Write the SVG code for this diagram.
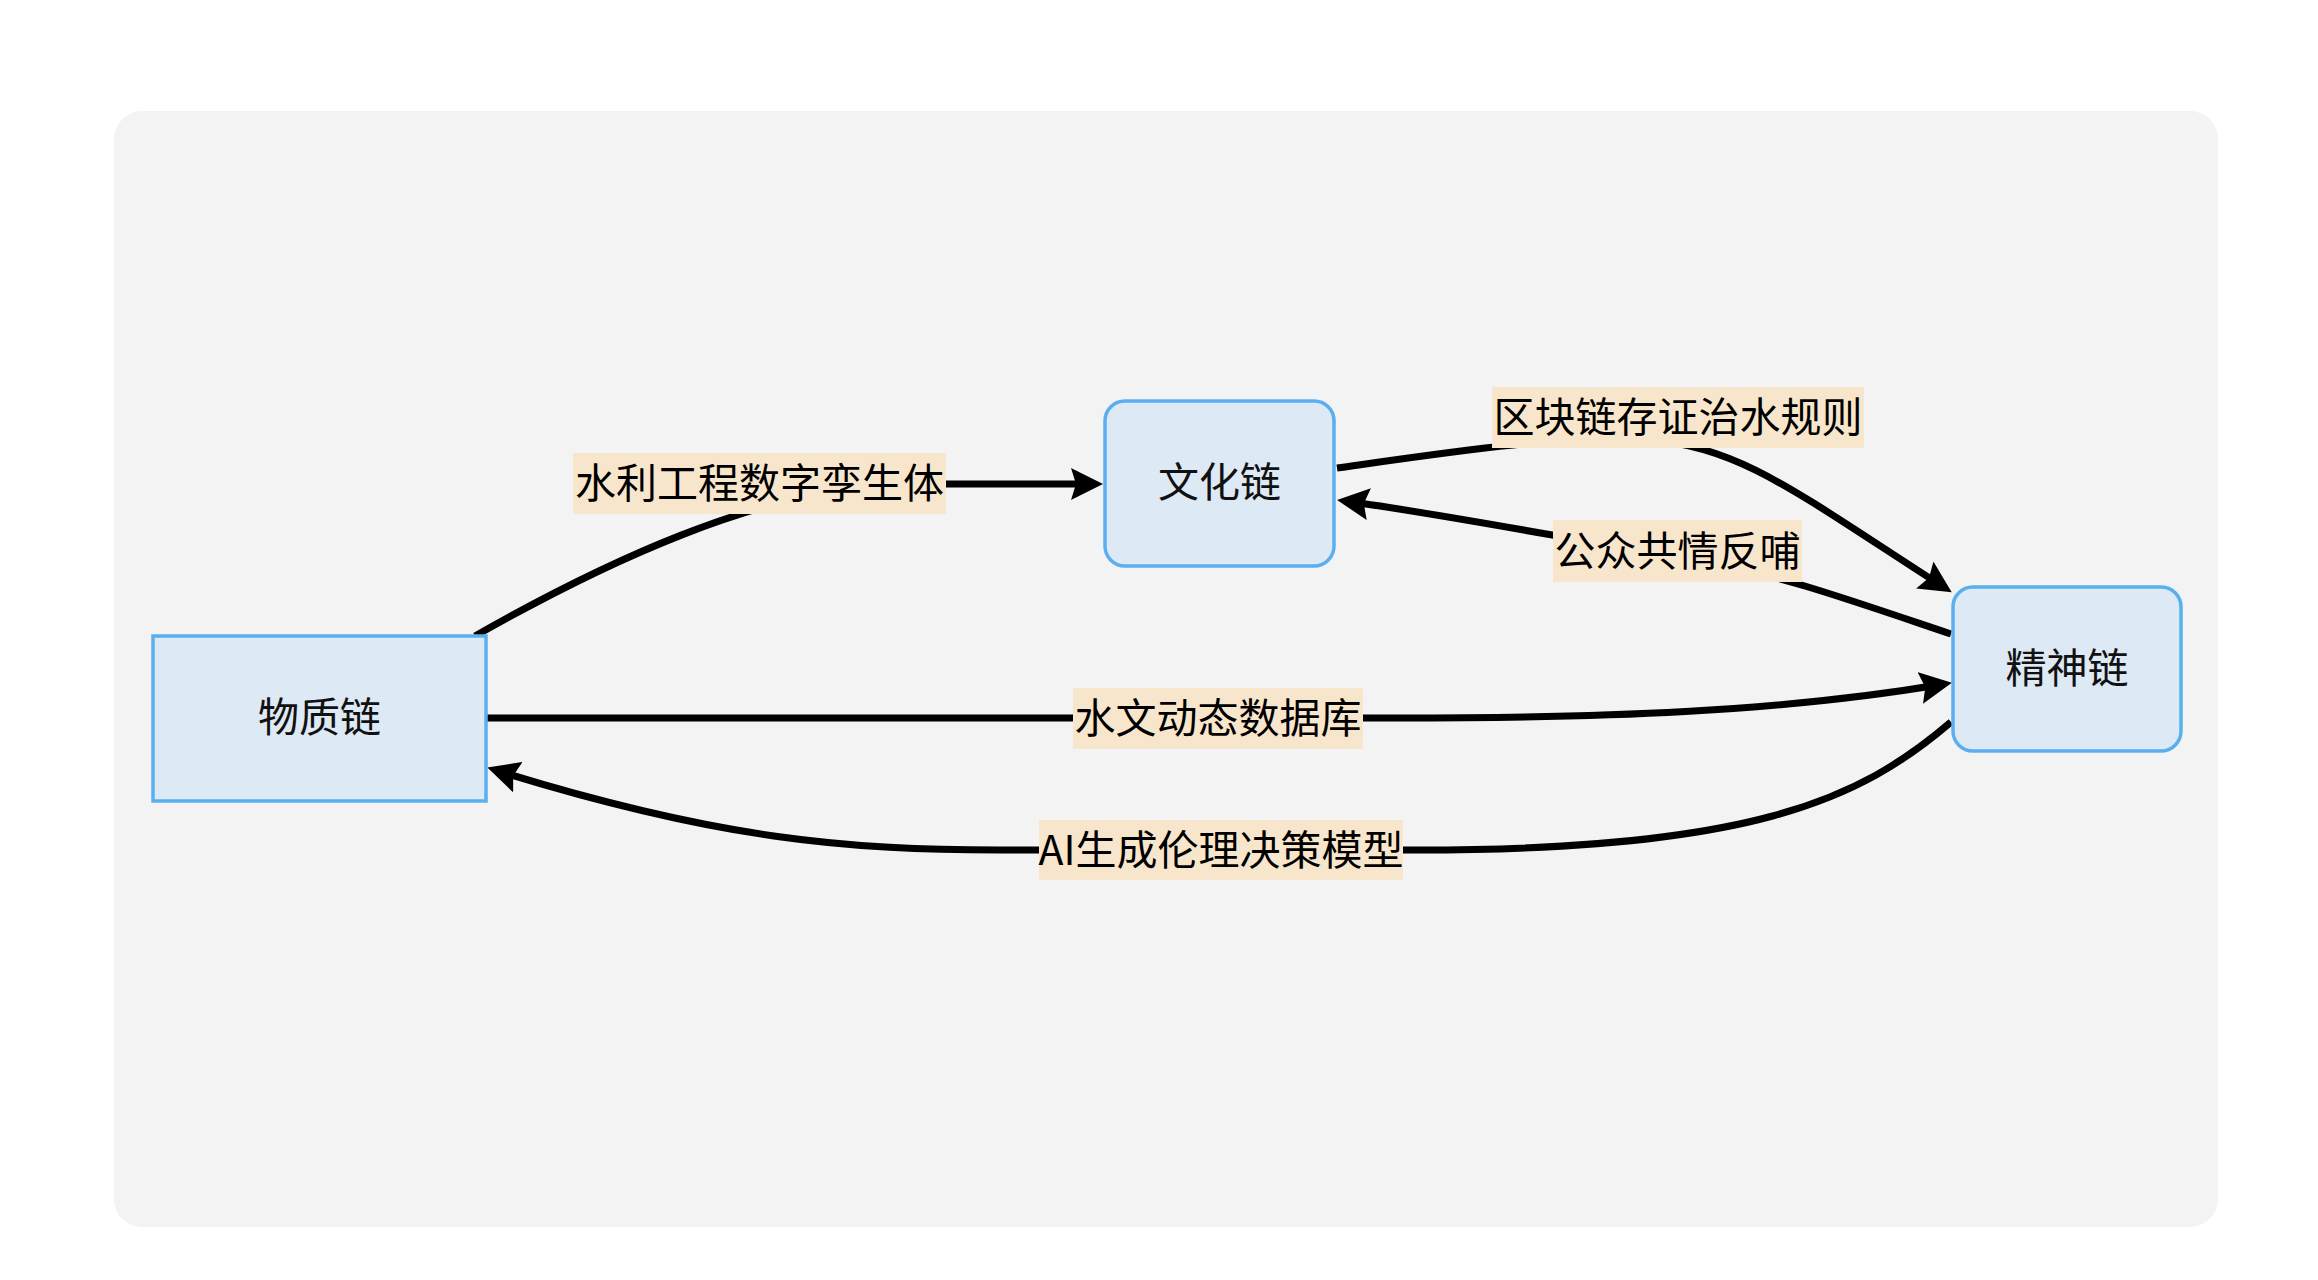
<svg xmlns="http://www.w3.org/2000/svg" width="2318" height="1280" viewBox="0 0 2318 1280">
  <style>
    .node { fill: #dde9f4; stroke: #5ab0ee; stroke-width: 3.5; }
    .ntext { font-family: "Noto Sans CJK SC", "Noto Sans", sans-serif; font-size: 41px; fill: #111; text-anchor: middle; dominant-baseline: central; }
    .edge { fill: none; stroke: #000; stroke-width: 7; }
    .lbg { fill: #f8e6cc; }
    .ltext { font-family: "Noto Sans CJK SC", "Noto Sans", sans-serif; font-size: 41px; fill: #000; text-anchor: middle; dominant-baseline: central; }
  </style>
  <defs>
    <marker id="arrow" viewBox="0 0 32 32" markerWidth="32" markerHeight="32" refX="24" refY="16" orient="auto" markerUnits="userSpaceOnUse">
      <path d="M0,0 L32,16 L0,32 L5,16 z" fill="#000"/>
    </marker>
  </defs>
  <rect x="0" y="0" width="2318" height="1280" fill="#ffffff"/>
  <rect id="panel" x="114" y="111" width="2104" height="1116" rx="28" fill="#f3f3f3"/>

  <g id="connectors">
    <path class="edge" d="M 475 636 C 600 565, 760 488, 900 484 L 1095 484" marker-end="url(#arrow)"/>
    <path class="edge" d="M 1337 468 C 1450 452, 1560 435, 1650 440 C 1740 446, 1800 495, 1945 588" marker-end="url(#arrow)"/>
    <path class="edge" d="M 1951 634 C 1850 600, 1780 575, 1700 560 C 1600 545, 1450 515, 1345 501" marker-end="url(#arrow)"/>
    <path class="edge" d="M 487 718 L 1400 718 C 1600 718, 1780 712, 1944 684" marker-end="url(#arrow)"/>
    <path class="edge" d="M 1951 722 C 1860 800, 1750 852, 1400 850 L 1000 850 C 850 850, 720 840, 495 770" marker-end="url(#arrow)"/>
  </g>

  <g id="labels">
    <g id="label-shuili">
      <rect class="lbg" x="573" y="453" width="373" height="61"/>
      <text class="ltext" x="759.5" y="480">水利工程数字孪生体</text>
    </g>
    <g id="label-qukuailian">
      <rect class="lbg" x="1492" y="387" width="372" height="61"/>
      <text class="ltext" x="1678" y="414">区块链存证治水规则</text>
    </g>
    <g id="label-gongzhong">
      <rect class="lbg" x="1553" y="520" width="249" height="62"/>
      <text class="ltext" x="1677.5" y="547.5">公众共情反哺</text>
    </g>
    <g id="label-shuiwen">
      <rect class="lbg" x="1073" y="688" width="290" height="61"/>
      <text class="ltext" x="1218" y="715">水文动态数据库</text>
    </g>
    <g id="label-ai">
      <rect class="lbg" x="1039" y="820" width="364" height="60"/>
      <text class="ltext" x="1221" y="846.5">AI生成伦理决策模型</text>
    </g>
  </g>

  <g id="node-wuzhi">
    <rect class="node" x="153" y="636" width="333" height="165"/>
    <text class="ntext" x="319.5" y="714">物质链</text>
  </g>
  <g id="node-wenhua">
    <rect class="node" x="1105" y="401" width="229" height="165" rx="20"/>
    <text class="ntext" x="1219.5" y="479">文化链</text>
  </g>
  <g id="node-jingshen">
    <rect class="node" x="1953" y="587" width="228" height="164" rx="20"/>
    <text class="ntext" x="2067" y="664.5">精神链</text>
  </g>
</svg>
